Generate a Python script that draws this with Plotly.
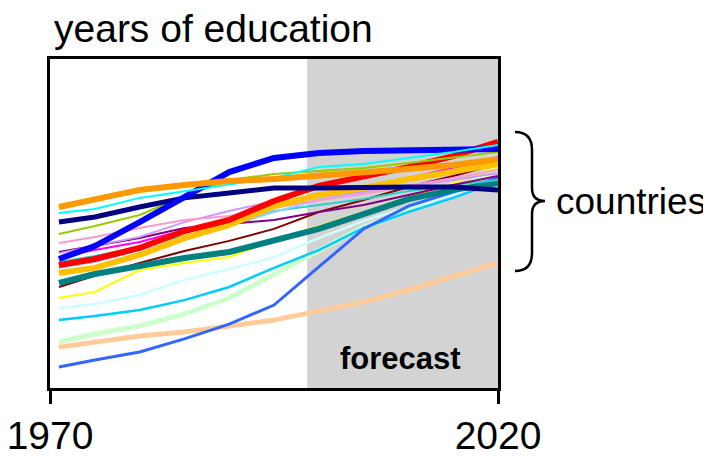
import plotly.graph_objects as go

# ---------------- data (years of education) ----------------
years = [1971, 1975, 1980, 1985, 1990, 1995, 2000, 2005, 2010, 2015, 2020]
tick_years = [1970, 2020]
tick_labels = ["1970", "2020"]
forecast_start = 1998.7

orange      = [7.70, 8.00, 8.43, 8.64, 8.81, 8.89, 9.02, 9.15, 9.32, 9.49, 9.74]
cyan        = [7.45, 7.62, 8.09, 8.38, 8.64, 8.94, 9.40, 9.53, 9.79, 10.04, 10.34]
navy        = [7.06, 7.28, 7.70, 8.09, 8.30, 8.51, 8.51, 8.55, 8.55, 8.55, 8.43]
yellowgreen = [6.55, 6.89, 7.36, 8.17, 8.85, 9.11, 9.23, 9.36, 9.57, 9.79, 10.04]
blue        = [5.49, 6.04, 7.06, 8.13, 9.19, 9.79, 10.00, 10.09, 10.13, 10.17, 10.17]
pink        = [6.17, 6.43, 6.81, 7.15, 7.32, 7.66, 8.00, 8.26, 8.60, 8.94, 9.28]
lavender    = [5.74, 6.04, 6.43, 7.06, 7.53, 7.96, 8.13, 8.34, 8.60, 8.85, 9.15]
magenta     = [5.57, 5.87, 6.21, 6.72, 7.11, 7.66, 8.17, 8.51, 8.94, 9.36, 9.83]
purple      = [5.79, 6.04, 6.38, 6.81, 6.98, 7.15, 7.49, 7.79, 8.21, 8.64, 9.02]
red         = [5.23, 5.49, 5.96, 6.68, 7.15, 7.96, 8.60, 8.98, 9.40, 9.87, 10.47]
lightblue   = [5.11, 5.36, 5.87, 6.38, 6.89, 7.49, 8.00, 8.43, 8.85, 9.19, 9.57]
gold        = [4.89, 5.11, 5.66, 6.38, 6.94, 7.74, 8.21, 8.51, 8.89, 9.19, 9.53]
tealcyan    = [5.36, 5.62, 6.00, 6.47, 6.89, 7.53, 7.79, 8.04, 8.38, 8.64, 8.85]
teal        = [4.47, 4.85, 5.19, 5.53, 5.79, 6.30, 6.77, 7.40, 8.04, 8.43, 8.72]
maroon      = [4.30, 4.77, 5.32, 5.83, 6.26, 6.77, 7.49, 8.00, 8.55, 9.02, 9.53]
yellow      = [3.83, 4.09, 5.02, 5.32, 5.57, 6.30, 6.89, 7.49, 8.13, 8.72, 9.40]
lightcyan   = [3.40, 3.57, 3.96, 4.60, 5.06, 5.57, 6.38, 7.11, 7.70, 8.21, 8.98]
deepsky     = [2.89, 3.06, 3.32, 3.74, 4.30, 5.11, 5.87, 6.81, 7.49, 8.09, 8.77]
palegreen   = [1.96, 2.30, 2.64, 3.15, 3.83, 4.85, 5.83, 6.85, 7.53, 8.43, 9.28]
peach       = [1.74, 1.96, 2.21, 2.38, 2.64, 2.89, 3.28, 3.66, 4.17, 4.72, 5.32]
royalblue   = [0.89, 1.19, 1.53, 2.09, 2.72, 3.53, 5.15, 6.77, 7.74, 8.34, 8.94]

# ---------------- styles (drawing order: first = bottom) ----------------
styles = [
    (peach, "#FFCC99", 5),
    (palegreen, "#CCFFCC", 5),
    (deepsky, "#00CCFF", 2.5),
    (lightcyan, "#CCFFFF", 2.5),
    (royalblue, "#3366FF", 3),
    (yellow, "#FFFF00", 2),
    (maroon, "#800000", 2),
    (teal, "#008080", 6),
    (tealcyan, "#33CCCC", 2),
    (lightblue, "#99CCFF", 2),
    (purple, "#800080", 2),
    (magenta, "#FF00FF", 2),
    (lavender, "#CC99FF", 2),
    (pink, "#FF99CC", 2),
    (gold, "#FFC000", 6),
    (red, "#FF0000", 6),
    (yellowgreen, "#99CC00", 2),
    (navy, "#000080", 5),
    (blue, "#0000FF", 6),
    (cyan, "#00FFFF", 2),
    (orange, "#FF9900", 6),
]

FONT = "Liberation Sans, Arial, sans-serif"
W, H = 711, 462
OFF = 8                       # page body margin of the browser
L, R, T, B = 50, 498, 59, 388  # plot area in target pixels


def px2paper(px, py):
    return (px - L) / (R - L), (B - py) / (B - T)


fig = go.Figure()
for vals, color, width in styles:
    fig.add_trace(go.Scatter(x=years, y=vals, mode="lines",
                             line=dict(color=color, width=width),
                             showlegend=False, hoverinfo="skip"))

# forecast shading
fig.add_shape(type="rect", xref="x", yref="paper", x0=forecast_start, x1=tick_years[1],
              y0=0, y1=1, fillcolor="#D3D3D3", line=dict(width=0), layer="below")

# curly brace
pts = [(515, 132), (532, 132), (532, 150), (532, 188), (532, 201), (545, 201),
       (532, 201), (532, 214), (532, 253), (532, 271), (515, 271)]
pp = [px2paper(*p) for p in pts]
path = ("M {0[0]},{0[1]} Q {1[0]},{1[1]} {2[0]},{2[1]} L {3[0]},{3[1]} "
        "Q {4[0]},{4[1]} {5[0]},{5[1]} Q {6[0]},{6[1]} {7[0]},{7[1]} "
        "L {8[0]},{8[1]} Q {9[0]},{9[1]} {10[0]},{10[1]}").format(*pp)
fig.add_shape(type="path", xref="paper", yref="paper", path=path,
              line=dict(color="black", width=2.5))

tx, ty = px2paper(55, 59)
fig.add_annotation(text="years of education", xref="paper", yref="paper",
                   x=tx, y=1, xanchor="left", yanchor="bottom", yshift=7, xshift=-3,
                   showarrow=False, font=dict(family=FONT, size=39, color="black"))
cx, cy = px2paper(556, 201)
fig.add_annotation(text="countries", xref="paper", yref="paper",
                   x=cx, y=cy, xanchor="left", yanchor="middle", xshift=-2,
                   showarrow=False, font=dict(family=FONT, size=37, color="black"))
fx, fy = px2paper(400, 358)
fig.add_annotation(text="<b>forecast</b>", xref="paper", yref="paper",
                   x=fx, y=fy, xanchor="center", yanchor="middle",
                   showarrow=False, font=dict(family=FONT, size=31, color="black"))

fig.update_layout(
    width=W, height=H,
    margin=dict(l=L - OFF, r=W - (R - OFF), t=T - OFF, b=H - (B - OFF), pad=0,
                autoexpand=False),
    plot_bgcolor="white", paper_bgcolor="white",
    xaxis=dict(range=[tick_years[0], tick_years[1]], tickvals=tick_years,
               ticktext=tick_labels, ticks="outside", ticklen=13, tickwidth=2.5,
               tickcolor="black", showline=True, linewidth=3, linecolor="black",
               mirror=True, showgrid=False, zeroline=False, ticklabelstandoff=-2,
               automargin=False, ticklabeloverflow="allow",
               tickfont=dict(family=FONT, size=39, color="black")),
    yaxis=dict(range=[0, 14], showticklabels=False, ticks="", showline=True,
               linewidth=3, linecolor="black", mirror=True, showgrid=False,
               zeroline=False, automargin=False),
)

fig.write_html("out.html")
